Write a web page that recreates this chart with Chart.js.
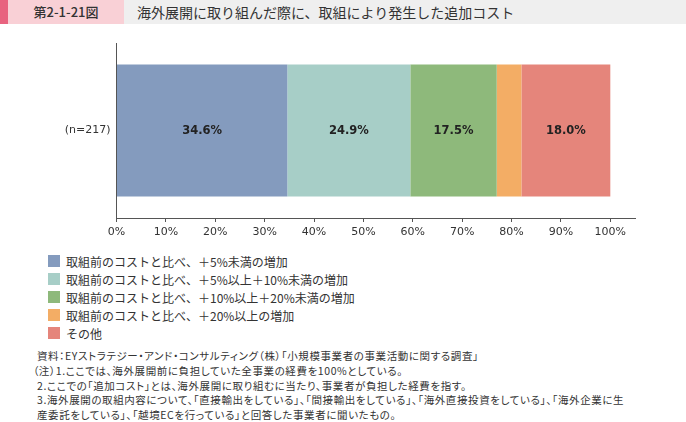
<!DOCTYPE html>
<html lang="ja">
<head>
<meta charset="utf-8">
<script src="https://cdn.jsdelivr.net/npm/chart.js@4/dist/chart.umd.min.js"></script>
<style>
    body { margin: 0; width: 686px; height: 422px; background: #fff; position: relative; overflow: hidden;
           font-family: "Noto Sans CJK JP", "DejaVu Sans", sans-serif; color: #333; }
    .header { position: absolute; left: 0; top: 0; width: 686px; height: 24px; background: #efefef; }
    .header .strip { position: absolute; left: 0; top: 0; width: 8px; height: 24px; background: #e8637f; }
    .header .num { position: absolute; left: 8px; top: 0; width: 116px; height: 24px; background: #f9d0d6;
                   text-align: center; line-height: 24px; font-size: 13px; font-weight: 500; color: #333; }
    .header .title { position: absolute; left: 137px; top: 0; line-height: 24px; font-size: 14px; color: #333; }
    #boxChart { position: absolute; left: 0; top: 30px; width: 686px; height: 215px; }
    #boxLegenda { position: absolute; left: 48px; top: 252px; font-size: 12px; color: #333; }
    .itemLegenda { height: 18px; display: flex; align-items: center; white-space: nowrap; }
    .itemLegenda span.cor { width: 12px; height: 12px; margin-right: 6px; display: inline-block; }
    #boxNotas { position: absolute; left: 37px; top: 349px; font-size: 10.5px; line-height: 14.8px; color: #333;
                white-space: nowrap; font-feature-settings: "palt"; letter-spacing: 0.6px; }
</style>
</head>
<body>
<div class="header">
    <div class="strip"></div>
    <div class="num">第2-1-21図</div>
    <div class="title">海外展開に取り組んだ際に、取組により発生した追加コスト</div>
</div>

<div id="boxChart"><canvas id="graficoCusto"></canvas></div>

<div id="boxLegenda"></div>

<div id="boxNotas">
    <div>資料：EYストラテジー・アンド・コンサルティング（株）「小規模事業者の事業活動に関する調査」</div>
    <div style="margin-left:-4px">（注）1.ここでは、海外展開前に負担していた全事業の経費を100%としている。</div>
    <div>2.ここでの「追加コスト」とは、海外展開に取り組むに当たり、事業者が負担した経費を指す。</div>
    <div>3.海外展開の取組内容について、「直接輸出をしている」、「間接輸出をしている」、「海外直接投資をしている」、「海外企業に生</div>
    <div>産委託をしている」、「越境ECを行っている」と回答した事業者に聞いたもの。</div>
</div>

<script>
// categorias e valores (%)
const categorias = ['(n=217)'];
const series = [
    '取組前のコストと比べ、＋5%未満の増加',
    '取組前のコストと比べ、＋5%以上＋10%未満の増加',
    '取組前のコストと比べ、＋10%以上＋20%未満の増加',
    '取組前のコストと比べ、＋20%以上の増加',
    'その他'
];
const valores = [34.6, 24.9, 17.5, 5.0, 18.0];
const cores = ['#849bbe', '#a7cec7', '#8eb97b', '#f3ad65', '#e5857b'];
const ticksX = [0, 10, 20, 30, 40, 50, 60, 70, 80, 90, 100];

// legenda em html
const boxLegenda = document.getElementById('boxLegenda');
series.forEach((nome, i) => {
    boxLegenda.innerHTML += `<div class="itemLegenda"><span class="cor" style="background:${cores[i]}"></span>${nome}</div>`;
});

// rótulos dentro das barras
const pluginRotulos = {
    id: 'rotulos',
    afterDatasetsDraw(chart) {
        const ctx = chart.ctx;
        ctx.save();
        ctx.font = 'bold 11.5px "DejaVu Sans"';
        ctx.fillStyle = '#222';
        ctx.textAlign = 'center';
        ctx.textBaseline = 'middle';
        chart.data.datasets.forEach((ds, i) => {
            chart.getDatasetMeta(i).data.forEach((el, j) => {
                const v = ds.data[j];
                if (v < 10) return;
                const p = el.getCenterPoint();
                ctx.fillText(v.toFixed(1) + '%', p.x, p.y + 1);
            });
        });
        ctx.restore();
    }
};

const ctxCusto = document.getElementById('graficoCusto');
const chart = new Chart(ctxCusto, {
    type: 'bar',
    data: {
        labels: categorias,
        datasets: series.map((nome, i) => ({
            label: nome,
            data: [valores[i]],
            backgroundColor: cores[i],
            borderWidth: 0,
            barPercentage: 0.754,
            categoryPercentage: 1
        }))
    },
    options: {
        indexAxis: 'y',
        responsive: true,
        maintainAspectRatio: false,
        animation: false,
        layout: { padding: { top: 13, right: 51, left: 0, bottom: 0 } },
        scales: {
            x: {
                stacked: true,
                min: 0,
                max: 105,
                afterBuildTicks: (axis) => { axis.ticks = ticksX.map(v => ({ value: v })); },
                afterFit: (axis) => { axis.height = 27; },
                grid: { drawOnChartArea: false, tickLength: 4, color: '#555' },
                border: { color: '#555' },
                ticks: {
                    padding: 4,
                    maxRotation: 0,
                    color: '#333',
                    font: { family: 'DejaVu Sans', size: 11 },
                    callback: (v) => v + '%'
                }
            },
            y: {
                stacked: true,
                afterFit: (axis) => { axis.width = 116.5; },
                grid: { drawOnChartArea: false, drawTicks: false },
                border: { color: '#555' },
                ticks: {
                    padding: 6,
                    color: '#333',
                    font: { family: 'DejaVu Sans', size: 11 }
                }
            }
        },
        plugins: {
            legend: { display: false },
            tooltip: { enabled: false }
        }
    },
    plugins: [pluginRotulos]
});
</script>
</body>
</html>
